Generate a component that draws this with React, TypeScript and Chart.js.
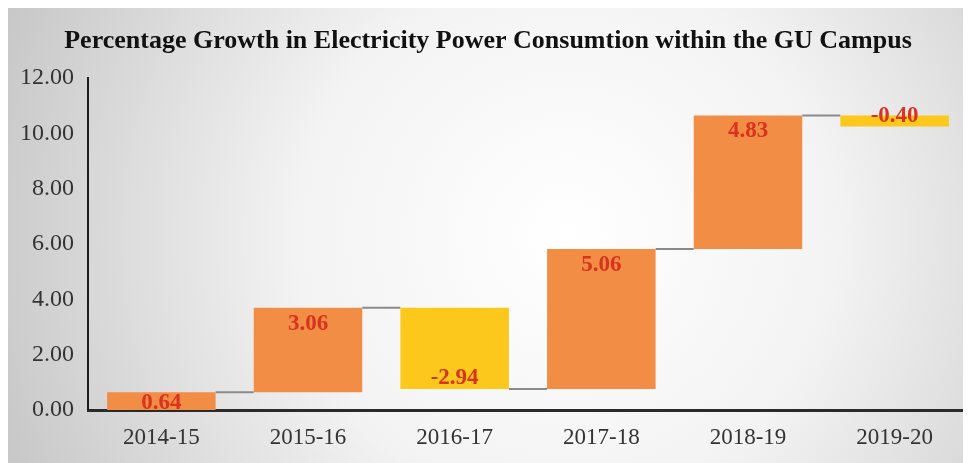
import React, { useEffect, useRef } from "react";
import { Chart, registerables } from "chart.js";

Chart.register(...registerables);

const categories = ["2014-15", "2015-16", "2016-17", "2017-18", "2018-19", "2019-20"];
const changes = [0.64, 3.06, -2.94, 5.06, 4.83, -0.4];
const yMin = 0;
const yMax = 12;
const yStep = 2;
const titleText = "Percentage Growth in Electricity Power Consumtion within the GU Campus";

const ORANGE = "#F28D46";
const YELLOW = "#FCC81C";
const LABEL_RED = "#D9321E";

function buildRanges(vals: number[]): [number, number][] {
  const out: [number, number][] = [];
  let run = 0;
  for (const v of vals) {
    const start = run;
    run = Math.round((run + v) * 100) / 100;
    out.push([start, run]);
  }
  return out;
}

const backgroundPlugin = {
  id: "bgGradient",
  beforeDraw(chart: any) {
    const { ctx, width, height } = chart;
    ctx.save();
    const g = ctx.createRadialGradient(width * 0.58, height * 0.5, 0, width * 0.58, height * 0.5, width * 0.62);
    g.addColorStop(0, "#ffffff");
    g.addColorStop(0.45, "#f3f3f3");
    g.addColorStop(1, "#c8c8c8");
    ctx.fillStyle = g;
    ctx.fillRect(0, 0, width, height);
    ctx.restore();
  },
};

const connectorPlugin = {
  id: "connectors",
  beforeDatasetsDraw(chart: any) {
    const meta = chart.getDatasetMeta(0);
    const ranges = chart.data.datasets[0].data as [number, number][];
    const y = chart.scales.y;
    const { ctx } = chart;
    ctx.save();
    ctx.strokeStyle = "#8a8a8a";
    ctx.lineWidth = 2;
    for (let i = 0; i < meta.data.length - 1; i++) {
      const a = meta.data[i] as any;
      const b = meta.data[i + 1] as any;
      const yy = y.getPixelForValue(ranges[i][1]);
      ctx.beginPath();
      ctx.moveTo(a.x + a.width / 2, yy);
      ctx.lineTo(b.x - b.width / 2, yy);
      ctx.stroke();
    }
    ctx.restore();
  },
};

const labelPlugin = {
  id: "barLabels",
  afterDatasetsDraw(chart: any) {
    const meta = chart.getDatasetMeta(0);
    const ranges = chart.data.datasets[0].data as [number, number][];
    const y = chart.scales.y;
    const { ctx } = chart;
    ctx.save();
    ctx.font = "bold 23px 'Liberation Serif', 'Times New Roman', serif";
    ctx.fillStyle = LABEL_RED;
    ctx.textAlign = "center";
    ctx.textBaseline = "middle";
    for (let i = 0; i < meta.data.length; i++) {
      const el = meta.data[i] as any;
      const [s, e] = ranges[i];
      const ps = y.getPixelForValue(s);
      const pe = y.getPixelForValue(e);
      const h = Math.abs(ps - pe);
      let ty: number;
      if (e >= s) {
        ty = pe + Math.min(16, h * 0.6);
      } else {
        ty = pe - 10.5;
      }
      ctx.fillText(changes[i].toFixed(2), el.x, ty);
    }
    ctx.restore();
  },
};

export default function App() {
  const ref = useRef<HTMLCanvasElement | null>(null);

  useEffect(() => {
    if (!ref.current) return;
    const ranges = buildRanges(changes);
    const colors = changes.map((v) => (v >= 0 ? ORANGE : YELLOW));
    const chart = new Chart(ref.current, {
      type: "bar",
      data: {
        labels: categories,
        datasets: [
          {
            data: ranges as any,
            backgroundColor: colors,
            borderWidth: 0,
            barPercentage: 0.74,
            categoryPercentage: 1,
            borderSkipped: false,
          },
        ],
      },
      options: {
        animation: false,
        responsive: false,
        maintainAspectRatio: false,
        layout: { padding: { left: 0, right: 3, top: 0, bottom: 0 } },
        plugins: {
          legend: { display: false },
          tooltip: { enabled: false },
          title: {
            display: true,
            text: titleText,
            color: "#111111",
            font: { family: "'Liberation Serif', 'Times New Roman', serif", size: 26, weight: "bold" },
            padding: { top: 18, bottom: 21 },
          },
        },
        scales: {
          x: {
            grid: { display: false, drawTicks: false },
            border: { display: true, color: "#2a2a2a", width: 3 },
            ticks: {
              color: "#333333",
              font: { family: "'Liberation Serif', 'Times New Roman', serif", size: 23 },
              padding: 14,
            },
            afterFit(scale: any) {
              scale.height = 53;
            },
          },
          y: {
            min: yMin,
            max: yMax,
            grid: { display: false, drawTicks: false },
            border: { display: true, color: "#1e1e1e", width: 2 },
            ticks: {
              stepSize: yStep,
              color: "#333333",
              font: { family: "'Liberation Serif', 'Times New Roman', serif", size: 24 },
              padding: 14,
              callback: (v: any) => Number(v).toFixed(2),
            },
            afterFit(scale: any) {
              scale.width = 80;
            },
          },
        },
      },
      plugins: [backgroundPlugin, connectorPlugin, labelPlugin],
    });
    return () => chart.destroy();
  }, []);

  return (
    <div style={{ width: 963, height: 455 }}>
      <canvas ref={ref} width={963} height={455} style={{ display: "block" }} />
    </div>
  );
}
